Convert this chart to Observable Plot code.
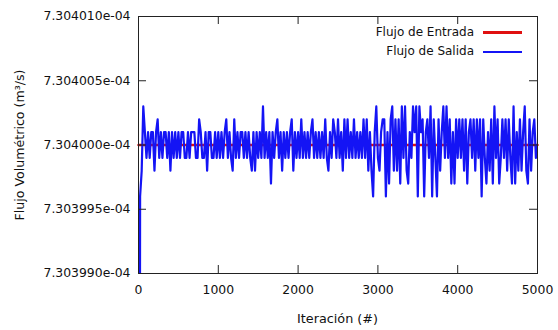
<!DOCTYPE html>
<html>
<head>
<meta charset="utf-8">
<script src="https://cdn.jsdelivr.net/npm/d3@7"></script>
<script src="https://cdn.jsdelivr.net/npm/@observablehq/plot@0.6"></script>
<style>
  html, body { margin: 0; padding: 0; background: #fff; }
  #chart { position: relative; width: 558px; height: 330px; font-family: "DejaVu Sans", Verdana, sans-serif; color: #111; }
  #chart svg { display: block; }
  .ytitle { position: absolute; left: 19px; top: 145px; transform: translate(-50%, -50%) rotate(-90deg); font-size: 12.6px; white-space: nowrap; }
  .xtitle { position: absolute; left: 337.5px; top: 318px; transform: translate(-50%, -50%); font-size: 12.8px; white-space: nowrap; }
  .legend { position: absolute; right: 36px; top: 23px; font-size: 12px; line-height: 19px; }
  .legend div.row { display: flex; align-items: center; justify-content: flex-end; }
  .legend div.sw { width: 39px; margin-left: 9px; }
</style>
</head>
<body>
<div id="chart"></div>
<script>
// Iteration axis
const xTicks = [0, 1000, 2000, 3000, 4000, 5000];
const iterStep = 20; // outflow sampled every 20 iterations

// Volumetric flow axis (m³/s)
const yTicks = [7.30399e-4, 7.303995e-4, 7.304e-4, 7.304005e-4, 7.30401e-4];

// Inflow: constant boundary value
const entradaFlujo = 7.304e-4;
const entradaIter = [0, 5000];

// Outflow, in units of 1e-10 m³/s above/below the inflow value
const salidaDelta = [
  -100, -4, -2, 3, 1, -1, 1, -1, 1, 1, -2, 1, 2, -1, 1, -1, 1, 1, -1, 1, -2, 1, -1, 1, -1,
  1, -1, 1, 1, -1, -1, 1, -1, 1, 1, 1, -1, -1, 2, 1, -1, -1, 1, -2, 1, 1, -1, -1, 1, -1,
  1, -1, 1, -1, 1, 2, -1, 1, -1, -2, 2, -1, 1, -1, 1, 1, -1, 1, -1, 1, -1, -2, 1, -2, 1,
  -1, 1, -1, 3, -1, 1, -1, 1, -3, 1, -1, 1, 2, -1, 1, -2, 1, -1, 1, -1, 1, 2, -2, 1, -1,
  1, -1, 2, -1, 1, -1, 1, -1, 1, 2, -1, 1, -1, 1, -1, 1, -1, 2, -1, -2, 1, -1, 2, 1, -1,
  2, -1, 1, -2, 2, -1, 2, -1, 1, -1, 2, -1, 1, -1, 1, -1, 2, -1, 2, -2, 1, -2, -4, 1, 3,
  -1, -2, 1, 2, 2, -4, 1, -3, 2, 3, -2, 2, -2, 2, -3, 3, -1, 3, -2, -3, 1, -1, 3, 1, 3,
  -4, 3, 1, 2, -4, 1, 2, -1, 3, -4, 2, -1, -4, 2, -2, 1, 3, -1, 3, -1, 2, -3, 1, -3, 2,
  -1, 2, -1, 2, -2, 2, -3, 1, 2, -1, 2, -2, 2, -1, 2, -4, 2, -1, -3, 1, -2, 2, -3, 3, -1,
  2, -3, -1, 2, -1, 2, -2, 2, -1, -3, 3, -3, 1, -2, 2, -2, 1, 3, -2, -3, 2, -2, 1, 2, -1, 0
];

const colorEntrada = "#e01010";
const colorSalida = "#1414f5";

const entrada = entradaIter.map(it => ({iter: it, q: entradaFlujo}));
const salida = salidaDelta.map((d, i) => ({iter: i * iterStep, q: entradaFlujo + d * 1e-10}));

const fmtY = v => v.toExponential(6).replace(/e([+-])(\d)$/, "e$10$2");

const W = 558, H = 330;
const mL = 138, mR = 21, mT = 16, mB = 57;
const innerW = W - mL - mR, innerH = H - mT - mB;
const tickLen = 8;
const ink = "#222";

const plot = Plot.plot({
  width: W,
  height: H,
  marginLeft: mL,
  marginRight: mR,
  marginTop: mT,
  marginBottom: mB,
  style: {fontFamily: "DejaVu Sans, Verdana, sans-serif", fontSize: "12.4px", color: "#111", background: "#fff"},
  x: {domain: [0, 5000]},
  y: {domain: [yTicks[0], yTicks[yTicks.length - 1]]},
  marks: [
    Plot.line(entrada, {x: "iter", y: "q", stroke: colorEntrada, strokeWidth: 2.5}),
    Plot.line(salida, {x: "iter", y: "q", stroke: colorSalida, strokeWidth: 2.2, clip: true}),
    // inward ticks on all four sides
    Plot.tickX(xTicks, {x: d => d, insetTop: innerH - tickLen, stroke: ink}),
    Plot.tickX(xTicks, {x: d => d, insetBottom: innerH - tickLen, stroke: ink}),
    Plot.tickY(yTicks, {y: d => d, insetRight: innerW - tickLen, stroke: ink}),
    Plot.tickY(yTicks, {y: d => d, insetLeft: innerW - tickLen, stroke: ink}),
    Plot.frame({stroke: ink}),
    Plot.axisX({ticks: xTicks, tickSize: 0, tickPadding: 12, label: null, tickFormat: d => String(d)}),
    Plot.axisY({ticks: yTicks, tickSize: 0, tickPadding: 8, label: null, tickFormat: fmtY})
  ]
});

const chart = document.getElementById("chart");
chart.appendChild(plot);

const yTitle = document.createElement("div");
yTitle.className = "ytitle";
yTitle.textContent = "Flujo Volumétrico (m³/s)";
chart.appendChild(yTitle);

const xTitle = document.createElement("div");
xTitle.className = "xtitle";
xTitle.textContent = "Iteración (#)";
chart.appendChild(xTitle);

const legend = document.createElement("div");
legend.className = "legend";
[["Flujo de Entrada", colorEntrada, 3], ["Flujo de Salida", colorSalida, 2]].forEach(([name, c, w]) => {
  const row = document.createElement("div");
  row.className = "row";
  const t = document.createElement("span");
  t.textContent = name;
  const sw = document.createElement("div");
  sw.className = "sw";
  sw.style.height = w + "px";
  sw.style.background = c;
  row.appendChild(t);
  row.appendChild(sw);
  legend.appendChild(row);
});
chart.appendChild(legend);
</script>
</body>
</html>
